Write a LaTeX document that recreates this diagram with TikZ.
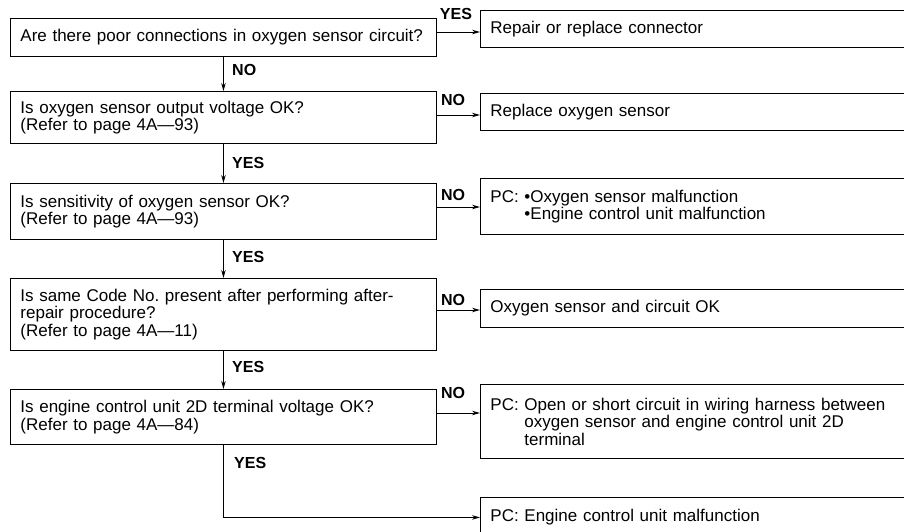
\documentclass[tikz,border=0pt]{standalone}
\usepackage{fontspec}
\setmainfont{Liberation Sans}
\usetikzlibrary{arrows.meta,calc}
\begin{document}
\begin{tikzpicture}[x=1pt,y=-1pt,
  box/.style={draw, line width=0.9pt, anchor=north west, align=left,
    inner xsep=10pt, inner ysep=0pt, font=\fontsize{17}{17.5}\selectfont},
  lbox/.style={box, minimum width=426pt, text width=406pt},
  rbox/.style={box, minimum width=450pt, text width=430pt},
  lbl/.style={font=\fontsize{16}{16}\selectfont\bfseries, inner sep=0pt},
  arr/.style={line width=0.9pt, -{Stealth[length=8pt,width=4.5pt]}}]
\useasboundingbox (0,0) rectangle (904,532);
\clip (0,0) rectangle (904,532);

% left column
\node[lbox, minimum height=38pt] (B1) at (10,18) {Are there poor connections in oxygen sensor circuit?};
\node[lbox, minimum height=52pt] (B2) at (10,91) {Is oxygen sensor output voltage OK?\\(Refer to page 4A—93)};
\node[lbox, minimum height=56pt] (B3) at (10,183) {Is sensitivity of oxygen sensor OK?\\(Refer to page 4A—93)};
\node[lbox, minimum height=72pt] (B4) at (10,278) {Is same Code No.\ present after performing after-\\repair procedure?\\(Refer to page 4A—11)};
\node[lbox, minimum height=55pt] (B5) at (10,389) {Is engine control unit 2D terminal voltage OK?\\(Refer to page 4A—84)};

% right column
\node[rbox, minimum height=37pt] (R1) at (480,10) {Repair or replace connector};
\node[rbox, minimum height=37pt] (R2) at (480,93) {Replace oxygen sensor};
\node[rbox, minimum height=56pt] (R3) at (480,178) {PC: •Oxygen sensor malfunction\\\hphantom{PC: }•Engine control unit malfunction};
\node[rbox, minimum height=38pt] (R4) at (480,289) {Oxygen sensor and circuit OK};
\node[rbox, minimum height=74pt] (R5) at (480,384) {PC: Open or short circuit in wiring harness between\\\hphantom{PC: }oxygen sensor and engine control unit 2D\\\hphantom{PC: }terminal};
\node[rbox, minimum height=40pt] (R6) at (480,497) {PC: Engine control unit malfunction};

% vertical connectors
\draw[arr] (B1.south) -- (B2.north);
\draw[arr] (B2.south) -- (B3.north);
\draw[arr] (B3.south) -- (B4.north);
\draw[arr] (B4.south) -- (B5.north);
\draw[arr] (B5.south) |- (R6.west);

% horizontal connectors
\draw[arr] (B1.east |- 0,32) -- (R1.west |- 0,32);
\draw[arr] (B2.east |- 0,115) -- (R2.west |- 0,115);
\draw[arr] (B3.east |- 0,207) -- (R3.west |- 0,207);
\draw[arr] (B4.east |- 0,310) -- (R4.west |- 0,310);
\draw[arr] (B5.east |- 0,413) -- (R5.west |- 0,413);

% labels
\node[lbl, anchor=west] (l1) at (232,70) {NO};
\node[lbl, anchor=west] (l2) at (232,163) {YES};
\node[lbl, anchor=west] (l3) at (232,257) {YES};
\node[lbl, anchor=west] (l4) at (232,367) {YES};
\node[lbl, anchor=west] (l5) at (234,463) {YES};
\node[lbl] (r1) at (456,14) {YES};
\node[lbl] (r2) at (453,100) {NO};
\node[lbl] (r3) at (453,195) {NO};
\node[lbl] (r4) at (453,300) {NO};
\node[lbl] (r5) at (453,393) {NO};
\end{tikzpicture}
\end{document}
